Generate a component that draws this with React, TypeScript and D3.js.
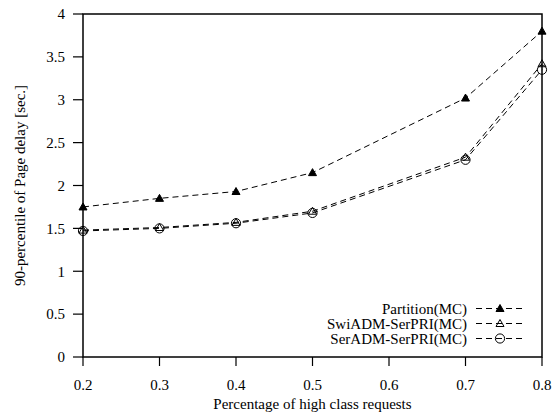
import React from "react";
import * as d3 from "d3";

const xValues = [0.2, 0.3, 0.4, 0.5, 0.7, 0.8];
const partition = [1.75, 1.85, 1.93, 2.15, 3.02, 3.8];
const swiAdm = [1.48, 1.51, 1.57, 1.7, 2.33, 3.42];
const serAdm = [1.47, 1.5, 1.56, 1.68, 2.3, 3.35];

const seriesNames = ["Partition(MC)", "SwiADM-SerPRI(MC)", "SerADM-SerPRI(MC)"];
const xTicks = [0.2, 0.3, 0.4, 0.5, 0.6, 0.7, 0.8];
const yTicks = [0, 0.5, 1, 1.5, 2, 2.5, 3, 3.5, 4];

const W = 553;
const H = 416;
const left = 83;
const right = 542;
const top = 14;
const bottom = 357;
const fs = 15;
const font = "'Liberation Serif', 'Times New Roman', serif";

type Marker = "filledTri" | "openTri" | "circle";

function MarkerShape({ kind, x, y }: { kind: Marker; x: number; y: number }) {
  if (kind === "circle") {
    return <circle cx={x} cy={y} r={4.6} fill="none" stroke="#000" strokeWidth={1} />;
  }
  const s = 4;
  const pts = `${x},${y - s} ${x - s},${y + s * 0.75} ${x + s},${y + s * 0.75}`;
  return (
    <polygon
      points={pts}
      fill={kind === "filledTri" ? "#000" : "none"}
      stroke="#000"
      strokeWidth={1}
    />
  );
}

export default function App() {
  const x = d3.scaleLinear().domain([0.2, 0.8]).range([left, right]);
  const y = d3.scaleLinear().domain([0, 4]).range([bottom, top]);
  const line = d3
    .line<number>()
    .x((_, i) => x(xValues[i]))
    .y((d) => y(d));

  const series: { name: string; values: number[]; marker: Marker }[] = [
    { name: seriesNames[0], values: partition, marker: "filledTri" },
    { name: seriesNames[1], values: swiAdm, marker: "openTri" },
    { name: seriesNames[2], values: serAdm, marker: "circle" },
  ];

  const legendY = [308.5, 323.5, 338.5];

  return (
    <svg
      width={W}
      height={H}
      style={{ position: "absolute", left: 0, top: 0, background: "#fff" }}
      fontFamily={font}
    >
      {/* y ticks */}
      {yTicks.map((t) => (
        <g key={"y" + t}>
          <line x1={left - 10} x2={left} y1={y(t)} y2={y(t)} stroke="#000" strokeWidth={1.2} />
          <text x={left - 18} y={y(t)} dy="0.35em" textAnchor="end" fontSize={fs}>
            {t}
          </text>
        </g>
      ))}
      {/* x ticks */}
      {xTicks.map((t) => (
        <g key={"x" + t}>
          <line x1={x(t)} x2={x(t)} y1={bottom} y2={bottom + 9} stroke="#000" strokeWidth={1.2} />
          <text x={x(t)} y={bottom + 28} dy="0.35em" textAnchor="middle" fontSize={fs}>
            {t}
          </text>
        </g>
      ))}
      {/* frame */}
      <rect
        x={left}
        y={top}
        width={right - left}
        height={bottom - top}
        fill="none"
        stroke="#000"
        strokeWidth={1.5}
      />
      {/* series */}
      {series.map((s) => (
        <g key={s.name}>
          <path
            d={line(s.values) || ""}
            fill="none"
            stroke="#000"
            strokeWidth={1}
            strokeDasharray="6,4"
          />
          {s.values.map((v, i) => (
            <MarkerShape key={i} kind={s.marker} x={x(xValues[i])} y={y(v)} />
          ))}
        </g>
      ))}
      {/* legend */}
      {series.map((s, i) => (
        <g key={"lg" + s.name}>
          <text x={467} y={legendY[i]} dy="0.35em" textAnchor="end" fontSize={fs}>
            {s.name}
          </text>
          <line
            x1={476}
            x2={526}
            y1={legendY[i]}
            y2={legendY[i]}
            stroke="#000"
            strokeWidth={1}
            strokeDasharray="6,4"
          />
          <MarkerShape kind={s.marker} x={500} y={legendY[i]} />
        </g>
      ))}
      {/* axis titles */}
      <text x={(left + right) / 2} y={404} dy="0.35em" textAnchor="middle" fontSize={fs}>
        Percentage of high class requests
      </text>
      <text
        transform={`translate(20, ${(top + bottom) / 2}) rotate(-90)`}
        dy="0.35em"
        textAnchor="middle"
        fontSize={fs}
      >
        90-percentile of Page delay [sec.]
      </text>
    </svg>
  );
}
